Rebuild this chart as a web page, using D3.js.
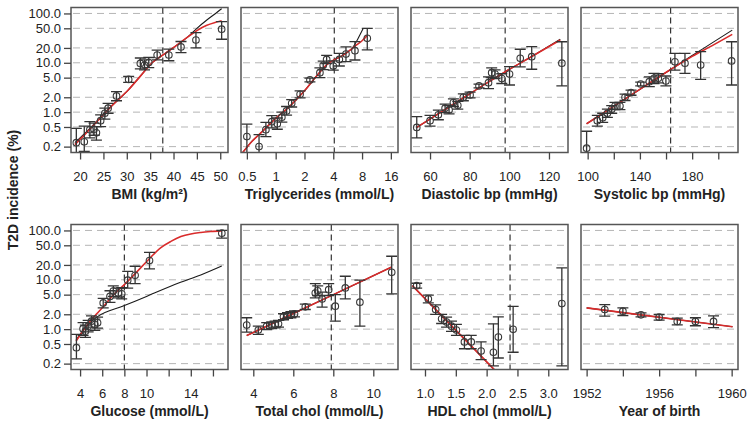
<!DOCTYPE html>
<html>
<head>
<meta charset="utf-8">
<script src="https://d3js.org/d3.v7.min.js"></script>
<style>
body { margin: 0; background: #fff; }
svg text { font-family: "Liberation Sans", Arial, Helvetica, sans-serif; fill: #222; }
</style>
</head>
<body>
<script>
// shared y axis: T2D incidence (%), log scale
var yDomain = [0.152, 132];
var yTicks = [0.2, 0.5, 1, 2, 5, 10, 20, 50, 100];
var yTickLabels = ["0.2", "0.5", "1.0", "2.0", "5.0", "10.0", "20.0", "50.0", "100.0"];

// points are [x, estimate, lower, upper]; curves are [x, value]
var bmiPoints = [
  [19.2, 0.24, 0.10, 0.47], [20.9, 0.25, 0.16, 0.52], [22.1, 0.44, 0.30, 0.64],
  [23.0, 0.45, 0.34, 0.60], [23.5, 0.38, 0.27, 0.51], [24.4, 0.67, 0.51, 0.88],
  [25.3, 0.95, 0.72, 1.2], [26.0, 1.2, 0.95, 1.5], [27.8, 2.13, 1.7, 2.6],
  [30.4, 4.6, 4.0, 5.3], [32.9, 9.7, 7.5, 12.5], [33.8, 9.0, 7.2, 11.5],
  [34.7, 10.1, 8.0, 12.8], [36.5, 14.4, 11.5, 18], [39.0, 14.4, 11, 19],
  [41.6, 21, 16, 27], [44.8, 29, 20, 41], [50.3, 48, 30, 68]
];
var bmiRed = [[18.9, 0.22], [21, 0.35], [24, 0.7], [27, 1.4], [30.3, 2.8], [33, 5.5], [35.4, 10],
  [38, 15], [40.5, 22], [43, 33], [45, 45], [47, 57], [49, 66], [50.3, 71]];
var bmiBlack = [[18.9, 0.24], [21, 0.37], [24, 0.72], [27, 1.4], [30.3, 2.8], [33, 5.5], [35.4, 10],
  [38, 15], [40.5, 22], [43, 33], [45, 50], [47, 72], [49, 100], [50.3, 125]];
var bmiTicks = [20, 25, 30, 35, 40, 45, 50];
var bmiLabels = ["20", "25", "30", "35", "40", "45", "50"];

var tgPoints = [
  [0.50, 0.32, 0.12, 0.57], [0.67, 0.20, 0.08, 0.35], [0.79, 0.44, 0.32, 0.62],
  [0.91, 0.64, 0.48, 0.85], [1.04, 0.58, 0.45, 0.76], [1.16, 0.79, 0.63, 1.0],
  [1.30, 1.06, 0.87, 1.3], [1.47, 1.51, 1.27, 1.8], [1.80, 2.3, 1.95, 2.7],
  [2.28, 4.5, 4.1, 4.9], [2.9, 6.3, 5.0, 7.9], [3.14, 8.9, 7.3, 10.8],
  [3.41, 11.7, 9.6, 14.2], [4.0, 8.6, 7.1, 10.9], [4.63, 11.7, 8.6, 15.5],
  [5.43, 15.0, 10.6, 21], [6.74, 17.6, 11.4, 26.8], [9.07, 31.3, 18.2, 49.8]
];
var tgRed = [[0.45, 0.15], [0.57, 0.26], [0.7, 0.38], [0.85, 0.55], [1.0, 0.75], [1.3, 1.15],
  [1.6, 1.7], [2.0, 2.7], [2.5, 4.6], [3.0, 7.0], [3.5, 9.5], [4.1, 11.5], [5.0, 14],
  [6.0, 18], [7.0, 23], [8.0, 28], [9.07, 36]];
var tgBlack = [[0.45, 0.15], [0.57, 0.26], [0.7, 0.38], [0.85, 0.55], [1.0, 0.75], [1.3, 1.15],
  [1.6, 1.7], [2.0, 2.7], [2.5, 4.6], [3.0, 7.0], [3.5, 9.5], [4.1, 11.5], [5.0, 14],
  [6.0, 18], [6.47, 21], [7.2, 30], [8.24, 50]];
var tgTicks = [0.5, 1, 2, 4, 8, 16];
var tgLabels = ["0.5", "1", "2", "4", "8", "16"];

var dbpPoints = [
  [53.3, 0.49, 0.30, 0.81], [60.0, 0.67, 0.52, 0.86], [64.2, 0.88, 0.70, 1.1],
  [67.6, 1.20, 0.98, 1.45], [69.6, 1.11, 0.92, 1.35], [71.8, 1.56, 1.3, 1.85],
  [74.0, 1.38, 1.15, 1.65], [76.8, 2.0, 1.7, 2.35], [80.2, 2.23, 1.95, 2.55],
  [84.7, 3.4, 3.1, 3.7], [89.5, 3.96, 3.0, 5.2], [91.1, 6.3, 5.0, 7.9],
  [92.8, 5.9, 4.8, 7.2], [96.2, 4.8, 3.8, 6.0], [100.1, 5.9, 3.55, 8.4],
  [105.5, 12.3, 8.3, 18.8], [111.3, 13.3, 7.4, 21.2], [126.5, 9.8, 3.4, 26.7]
];
var dbpRed = [[53.3, 0.49], [70, 1.3], [90, 4.2], [98, 6.6], [110, 12.5], [125.7, 29]];
var dbpBlack = [[53.3, 0.49], [70, 1.3], [90, 4.2], [98, 6.6], [110, 12.5], [125.7, 30]];
var dbpTicks = [60, 80, 100, 120];
var dbpLabels = ["60", "80", "100", "120"];

var sbpPoints = [
  [99.2, 0.186, 0.08, 0.41], [107.4, 0.67, 0.52, 0.86], [111.5, 0.77, 0.62, 0.95],
  [115.1, 0.95, 0.78, 1.15], [118.4, 1.14, 0.95, 1.36], [120.9, 1.33, 1.12, 1.58],
  [124.7, 1.33, 1.12, 1.58], [128.6, 2.0, 1.72, 2.32], [133.2, 2.48, 2.2, 2.8],
  [140.6, 3.72, 3.4, 4.05], [147.2, 4.15, 3.3, 5.2], [150.8, 4.85, 3.8, 6.1],
  [154.1, 4.85, 3.9, 6.0], [159.9, 4.28, 3.4, 5.4], [166.8, 10.5, 7.1, 15.5],
  [174.5, 9.8, 6.1, 15.5], [186.5, 9.0, 4.6, 16.8], [210.2, 10.9, 3.55, 26.7]
];
var sbpRed = [[99.2, 0.58], [130, 1.95], [163.5, 7.3], [180, 13.5], [195, 22], [210.7, 37.6]];
var sbpBlack = [[99.2, 0.58], [130, 1.95], [163.5, 7.3], [180, 14], [195, 25], [210.7, 46]];
var sbpTicks = [100, 120, 140, 160, 180, 200];
var sbpLabels = ["100", "", "140", "", "180", ""];

var gluPoints = [
  [3.67, 0.42, 0.25, 0.78], [4.27, 1.02, 0.75, 1.35], [4.48, 0.91, 0.68, 1.2],
  [4.73, 1.15, 0.88, 1.5], [5.03, 1.45, 1.1, 1.85], [5.33, 1.24, 0.95, 1.6],
  [5.58, 1.34, 1.05, 1.75], [6.09, 3.4, 2.7, 4.2], [6.70, 4.6, 3.5, 6.0],
  [7.0, 5.9, 4.6, 7.5], [7.45, 5.4, 4.3, 6.8], [7.76, 5.2, 4.1, 6.9],
  [8.3, 9.8, 6.8, 14.8], [8.97, 12.3, 8.4, 18.8], [10.27, 24.6, 16.6, 36],
  [16.8, 88, 70, 100]
];
var gluRed = [[3.64, 0.57], [4.3, 0.95], [4.9, 1.45], [5.5, 2.05], [6.1, 2.85], [7.0, 4.9],
  [8.0, 8.0], [9.0, 13.5], [10.06, 24], [11.3, 45], [12.2, 60], [13.1, 75], [14.0, 85],
  [14.9, 91], [15.8, 95], [16.8, 98]];
var gluBlack = [[3.64, 0.6], [4.5, 1.1], [5.5, 1.75], [8, 3.0], [10, 4.6], [12.9, 8.6],
  [14.9, 12.5], [16.8, 19]];
var gluTicks = [4, 6, 8, 10, 12, 14, 16];
var gluLabels = ["4", "6", "8", "10", "", "14", ""];

var tcPoints = [
  [3.67, 1.21, 0.87, 1.7], [4.25, 0.96, 0.78, 1.15], [4.67, 1.15, 0.98, 1.35],
  [4.92, 1.19, 1.02, 1.4], [5.09, 1.24, 1.06, 1.45], [5.26, 1.28, 1.1, 1.5],
  [5.51, 1.78, 1.55, 2.05], [5.71, 1.89, 1.65, 2.15], [5.88, 1.95, 1.7, 2.25],
  [6.06, 2.04, 1.78, 2.35], [6.6, 2.83, 2.5, 3.2], [7.1, 5.4, 4.3, 8.4],
  [7.22, 6.0, 4.8, 7.5], [7.44, 4.1, 2.8, 5.6], [7.77, 6.3, 4.8, 8.4],
  [8.1, 2.92, 1.45, 5.0], [8.6, 6.85, 4.1, 11.8], [9.33, 3.52, 1.15, 9.8],
  [10.92, 14.2, 5.2, 30]
];
var tcRed = [[3.67, 0.74], [6, 2.07], [8, 5.0], [10.92, 18.2]];
var tcBlack = [[3.67, 0.74], [6, 2.07], [8, 5.0], [10.92, 18.2]];
var tcTicks = [4, 6, 8, 10];
var tcLabels = ["4", "6", "8", "10"];

var hdlPoints = [
  [0.865, 7.6, 6.8, 8.5], [1.054, 4.1, 3.4, 4.9], [1.173, 2.5, 2.0, 3.1],
  [1.27, 1.62, 1.3, 2.0], [1.35, 1.39, 1.1, 1.75], [1.43, 1.15, 0.9, 1.45],
  [1.51, 0.96, 0.75, 1.25], [1.64, 0.55, 0.4, 0.75], [1.75, 0.55, 0.4, 0.75],
  [1.91, 0.36, 0.24, 0.55], [2.11, 0.34, 0.18, 1.28], [2.19, 0.69, 0.26, 1.78],
  [2.43, 0.99, 0.34, 2.9], [3.22, 3.3, 0.18, 17.4]
];
var hdlRed = [[0.795, 7.6], [2.12, 0.153]];
var hdlBlack = [[0.795, 7.6], [2.12, 0.153]];
var hdlTicks = [1.0, 1.5, 2.0, 2.5, 3.0];
var hdlLabels = ["1.0", "1.5", "2.0", "2.5", "3.0"];

var yobPoints = [
  [1953, 2.5, 1.83, 3.15], [1954, 2.31, 1.89, 2.7], [1955, 1.95, 1.78, 2.14],
  [1956, 1.75, 1.52, 1.98], [1957, 1.43, 1.22, 1.67], [1958, 1.43, 1.17, 1.7],
  [1959, 1.43, 1.07, 1.85]
];
var yobRed = [[1952, 2.7], [1960.05, 1.12]];
var yobBlack = [[1952, 2.7], [1960.05, 1.12]];
var yobTicks = [1952, 1954, 1956, 1958, 1960];
var yobLabels = ["1952", "", "1956", "", "1960"];

var panels = [
  {title: "BMI (kg/m\u00b2)", pts: bmiPoints, red: bmiRed, black: bmiBlack, cut: 37.7, log: false, domain: [18.06, 51.66], ticks: bmiTicks, labels: bmiLabels},
  {title: "Triglycerides (mmol/L)", pts: tgPoints, red: tgRed, black: tgBlack, cut: 4.1, log: true, domain: [0.434, 19.0], ticks: tgTicks, labels: tgLabels},
  {title: "Diastolic bp (mmHg)", pts: dbpPoints, red: dbpRed, black: dbpBlack, cut: 97.9, log: false, domain: [50.4, 129.6], ticks: dbpTicks, labels: dbpLabels},
  {title: "Systolic bp (mmHg)", pts: sbpPoints, red: sbpRed, black: sbpBlack, cut: 163.5, log: false, domain: [94.9, 215.1], ticks: sbpTicks, labels: sbpLabels},
  {title: "Glucose (mmol/L)", pts: gluPoints, red: gluRed, black: gluBlack, cut: 8.0, log: false, domain: [3.18, 17.36], ticks: gluTicks, labels: gluLabels},
  {title: "Total chol (mmol/L)", pts: tcPoints, red: tcRed, black: tcBlack, cut: 7.9, log: false, domain: [3.385, 11.235], ticks: tcTicks, labels: tcLabels},
  {title: "HDL chol (mmol/L)", pts: hdlPoints, red: hdlRed, black: hdlBlack, cut: 2.38, log: false, domain: [0.773, 3.32], ticks: hdlTicks, labels: hdlLabels},
  {title: "Year of birth", pts: yobPoints, red: yobRed, black: yobBlack, cut: null, log: false, domain: [1951.69, 1960.35], ticks: yobTicks, labels: yobLabels}
];

var lefts = [71, 241, 411, 581],
    tops = [7.5, 224.5],
    pw = 157,
    ph = 145;

var svg = d3.select("body").append("svg")
    .attr("width", 751)
    .attr("height", 426);

var y = d3.scaleLog().domain(yDomain).range([ph, 0]);

panels.forEach(function(p, i) {
  var col = i % 4, row = Math.floor(i / 4);
  var g = svg.append("g")
      .attr("transform", "translate(" + lefts[col] + "," + tops[row] + ")");

  var x = (p.log ? d3.scaleLog().base(2) : d3.scaleLinear())
      .domain(p.domain)
      .range([0, pw]);

  g.append("clipPath").attr("id", "clip" + i)
    .append("rect").attr("width", pw).attr("height", ph);

  var plot = g.append("g").attr("clip-path", "url(#clip" + i + ")");

  // dashed grid
  plot.selectAll(".grid")
      .data(yTicks)
    .enter().append("line")
      .attr("class", "grid")
      .attr("x1", 2).attr("x2", pw)
      .attr("y1", function(d) { return y(d); })
      .attr("y2", function(d) { return y(d); })
      .style("stroke", "#b5b5b5")
      .style("stroke-dasharray", "7,5");

  if (p.cut !== null) {
    plot.append("line")
        .attr("x1", x(p.cut)).attr("x2", x(p.cut))
        .attr("y1", 0).attr("y2", ph)
        .style("stroke", "#333")
        .style("stroke-width", 1.2)
        .style("stroke-dasharray", "6,4");
  }

  var line = d3.line()
      .x(function(d) { return x(d[0]); })
      .y(function(d) { return y(d[1]); })
      .curve(d3.curveMonotoneX);

  plot.append("path")
      .datum(p.black)
      .attr("d", line)
      .style("fill", "none")
      .style("stroke", "#1a1a1a")
      .style("stroke-width", 1.1);

  plot.append("path")
      .datum(p.red)
      .attr("d", line)
      .style("fill", "none")
      .style("stroke", "#d92b2b")
      .style("stroke-width", 1.6);

  // error bars with caps
  var bars = plot.selectAll(".bar")
      .data(p.pts)
    .enter().append("g")
      .attr("class", "bar")
      .style("stroke", "#333")
      .style("stroke-width", 1.3);

  bars.append("line")
      .attr("x1", function(d) { return x(d[0]); })
      .attr("x2", function(d) { return x(d[0]); })
      .attr("y1", function(d) { return y(d[2]); })
      .attr("y2", function(d) { return y(d[3]); });
  bars.append("line")
      .attr("x1", function(d) { return x(d[0]) - 5.5; })
      .attr("x2", function(d) { return x(d[0]) + 5.5; })
      .attr("y1", function(d) { return y(d[2]); })
      .attr("y2", function(d) { return y(d[2]); });
  bars.append("line")
      .attr("x1", function(d) { return x(d[0]) - 5.5; })
      .attr("x2", function(d) { return x(d[0]) + 5.5; })
      .attr("y1", function(d) { return y(d[3]); })
      .attr("y2", function(d) { return y(d[3]); });

  plot.selectAll(".pt")
      .data(p.pts)
    .enter().append("circle")
      .attr("class", "pt")
      .attr("cx", function(d) { return x(d[0]); })
      .attr("cy", function(d) { return y(d[1]); })
      .attr("r", 3.3)
      .style("fill", "none")
      .style("stroke", "#3a3a3a")
      .style("stroke-width", 1.1);

  g.append("rect")
      .attr("width", pw)
      .attr("height", ph)
      .style("fill", "none")
      .style("stroke", "#555")
      .style("stroke-width", 1.5);

  var xAxis = d3.axisBottom(x)
      .tickValues(p.ticks)
      .tickSize(7)
      .tickPadding(12)
      .tickFormat(function(d, k) { return p.labels[k]; });

  var ax = g.append("g")
      .attr("transform", "translate(0," + ph + ")")
      .call(xAxis);
  ax.select(".domain").remove();
  ax.selectAll("line").style("stroke", "#444").style("stroke-width", 1.3);
  ax.selectAll("text").style("font-size", "13px").style("fill", "#222")
      .style("font-family", "'Liberation Sans', Arial, sans-serif");

  if (col === 0) {
    var yAxis = d3.axisLeft(y)
        .tickValues(yTicks)
        .tickSize(7)
        .tickPadding(3)
        .tickFormat(function(d, k) { return yTickLabels[k]; });
    var ay = g.append("g").call(yAxis);
    ay.select(".domain").remove();
    ay.selectAll("line").style("stroke", "#444").style("stroke-width", 1.3);
    ay.selectAll("text").style("font-size", "13px").style("fill", "#222")
        .style("font-family", "'Liberation Sans', Arial, sans-serif");
  }

  g.append("text")
      .attr("x", pw / 2)
      .attr("y", ph + 46)
      .attr("text-anchor", "middle")
      .style("font-size", "14px")
      .style("font-weight", "bold")
      .text(p.title);
});

svg.append("text")
    .attr("transform", "translate(18,190) rotate(-90)")
    .attr("text-anchor", "middle")
    .style("font-size", "14px")
    .style("font-weight", "bold")
    .text("T2D incidence (%)");
</script>
</body>
</html>
